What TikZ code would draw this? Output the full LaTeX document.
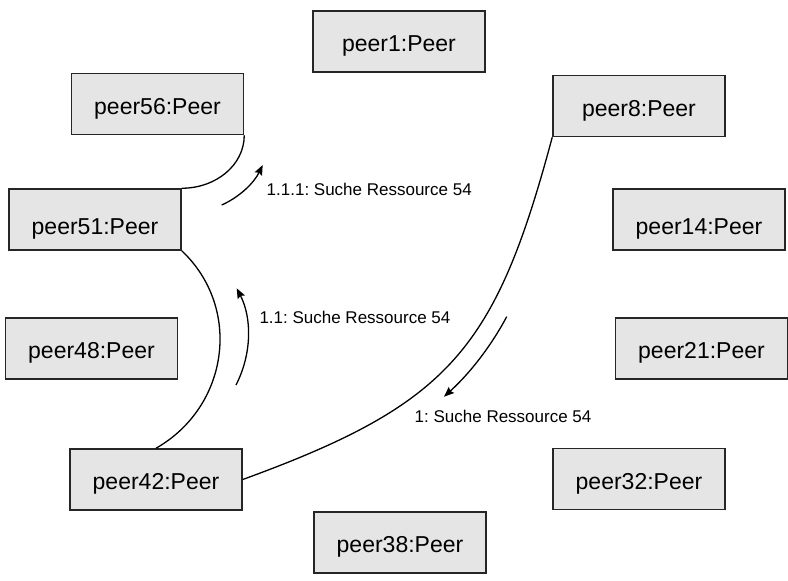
\documentclass[tikz,border=0pt]{standalone}
\usepackage{fontspec}
\setmainfont{Liberation Sans}
\usetikzlibrary{arrows.meta,calc}
\frenchspacing
\begin{document}
\begin{tikzpicture}[x=1pt,y=-1pt,
  peerbox/.style={draw=black!85, line width=1.5pt, fill=black!10,
    minimum width=172pt, minimum height=61pt, inner sep=0pt,
    font=\fontsize{23}{27}\selectfont, text height=20pt, text depth=0pt},
  lowtext/.style={text height=29pt},
  conn/.style={line width=1.3pt},
  msg/.style={line width=1.3pt, -{Stealth[length=10pt,width=8pt,inset=1.5pt]}},
  msglabel/.style={font=\fontsize{17}{20}\selectfont, anchor=west, inner sep=0pt}]
\useasboundingbox (0,0) rectangle (788,581);

\node[peerbox] (p1) at (399,41.5) {peer1:Peer};
\node[peerbox] (p56) at (157.5,104) {peer56:Peer};
\node[peerbox] (p8) at (639,106) {peer8:Peer};
\node[peerbox,lowtext] (p51) at (95,219.5) {peer51:Peer};
\node[peerbox,lowtext] (p14) at (699,219.5) {peer14:Peer};
\node[peerbox] (p48) at (91.5,348.5) {peer48:Peer};
\node[peerbox] (p21) at (701.5,348.5) {peer21:Peer};
\node[peerbox] (p42) at (156,479.5) {peer42:Peer};
\node[peerbox] (p32) at (639,479) {peer32:Peer};
\node[peerbox] (p38) at (400,542.5) {peer38:Peer};

\draw[conn] (p56.south east) .. controls ($(p56.south east)+(0,30)$) and ($(p51.north east)+(34,0)$) .. (p51.north east);
\draw[conn] (p51.south east) .. controls ($(p51.south east)+(60.8,57.5)$) and ($(p42.north)+(72.7,-41.5)$) .. (p42.north);
\draw[conn] (p8.south west) .. controls ($(p8.south west)+(-57,212.5)$) and ($(p42.east)+(207,-75.5)$) .. (p42.east);

\coordinate (a3s) at (221.7,205);
\coordinate (a3e) at (262.7,165);
\draw[msg] (a3s) .. controls (239.7,197) and (254.1,182.7) .. (a3e);
\coordinate (a2s) at (236,385);
\coordinate (a2e) at (236.7,288.3);
\draw[msg] (a2s) .. controls (251.6,354.7) and (252.3,318.6) .. (a2e);
\coordinate (a1s) at (506.7,316.7);
\coordinate (a1e) at (444,396.7);
\draw[msg] (a1s) .. controls (490.7,346.7) and (469.3,373.9) .. (a1e);

\node[msglabel] (l111) at (266.5,189.5) {1.1.1: Suche Ressource 54};
\node[msglabel] (l11) at (259.3,317.7) {1.1: Suche Ressource 54};
\node[msglabel] (l1) at (414.5,416.5) {1: Suche Ressource 54};
\end{tikzpicture}
\end{document}
